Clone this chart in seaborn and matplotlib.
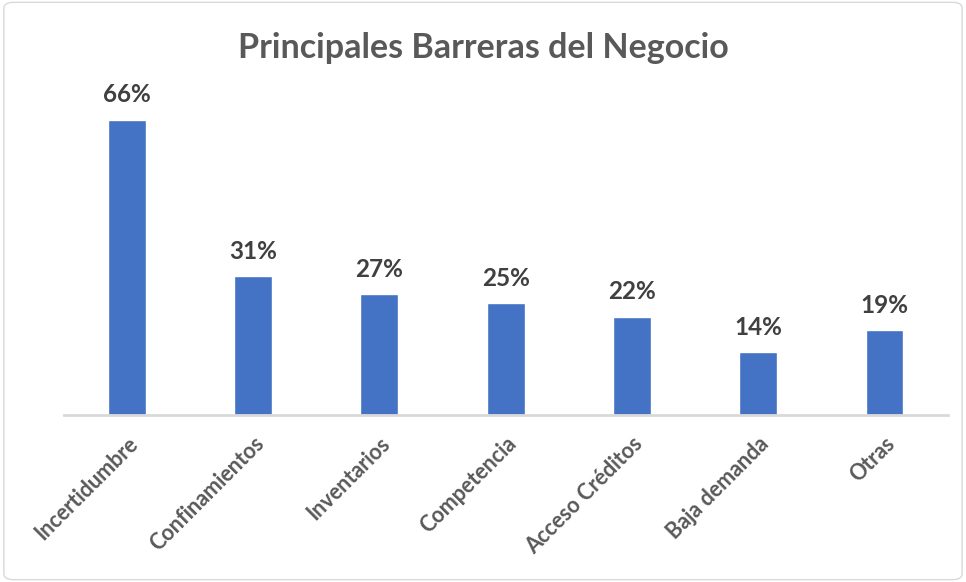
import matplotlib
matplotlib.use('Agg')
import matplotlib.pyplot as plt
import seaborn as sns
import pandas as pd
from matplotlib.patches import FancyBboxPatch

categorias = ['Incertidumbre', 'Confinamientos', 'Inventarios', 'Competencia',
              'Acceso Créditos', 'Baja demanda', 'Otras']
porcentajes = [66, 31, 27, 25, 22, 14, 19]
titulo = 'Principales Barreras del Negocio'

df = pd.DataFrame({'categoria': categorias, 'valor': porcentajes})

sns.set_style('white')
plt.rcParams['font.family'] = ['Lato', 'DejaVu Sans']

fig = plt.figure(figsize=(9.66, 5.82), dpi=100)
ax = fig.add_axes([0.066, 0.287, 0.915, 0.538])

sns.barplot(data=df, x='categoria', y='valor', color='#4472C4', width=0.3,
            saturation=1, ax=ax)

for i, v in enumerate(porcentajes):
    ax.text(i, v + 3, f'{v}%', ha='center', va='bottom', fontsize=17.5,
            fontweight='bold', color='#404040')

ax.set_xlim(-0.5, 6.5)
ax.set_ylim(0, 70)
ax.set_xlabel('')
ax.set_ylabel('')
ax.set_yticks([])
for s in ['top', 'right', 'left']:
    ax.spines[s].set_visible(False)
ax.spines['bottom'].set_color('#D9D9D9')
ax.spines['bottom'].set_linewidth(2)
ax.tick_params(axis='x', length=0, pad=13)
plt.setp(ax.get_xticklabels(), rotation=45, ha='right', rotation_mode='anchor',
         fontsize=15.5, fontweight='bold', color='#595959')

fig.text(0.5, 0.918, titulo, ha='center', va='center', fontsize=24.5,
         fontweight='bold', color='#595959')

borde = FancyBboxPatch((0.004, 0.004), 0.992, 0.992, boxstyle='round,pad=0,rounding_size=0.01',
                       transform=fig.transFigure, fill=False, edgecolor='#D9D9D9', linewidth=1)
fig.patches.append(borde)

fig.savefig('out.png', dpi=100)
